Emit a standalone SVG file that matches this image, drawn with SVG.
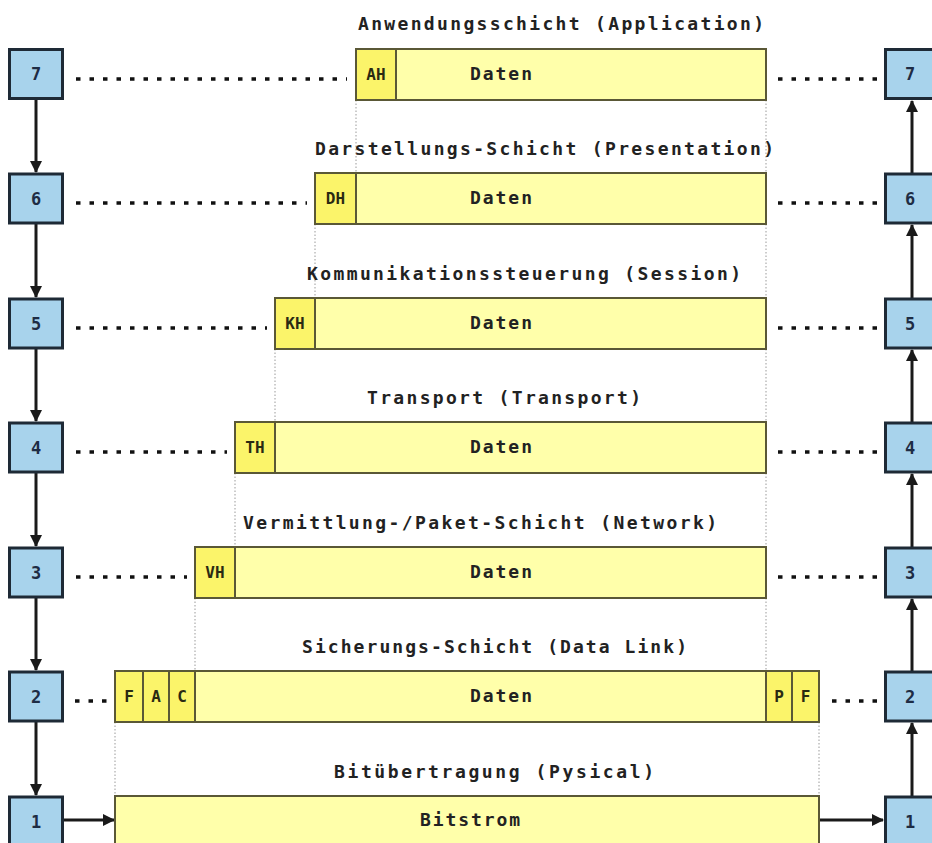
<svg xmlns="http://www.w3.org/2000/svg" width="932" height="843" viewBox="0 0 932 843">
<defs>
<style>
.box{fill:#a8d3ec;stroke:#1e2a36;stroke-width:3}
.num{font-family:"DejaVu Sans Mono","Liberation Mono",monospace;font-weight:bold;font-size:17px;fill:#1e2c44;text-anchor:middle}
.data{fill:#ffffaa;stroke:#5a5836;stroke-width:2}
.hdr{fill:#fbf46a;stroke:#5a5836;stroke-width:2}
.t{font-family:"DejaVu Sans Mono","Liberation Mono",monospace;font-weight:bold;font-size:18px;fill:#222}
.h{font-family:"DejaVu Sans Mono","Liberation Mono",monospace;font-weight:bold;font-size:16px;fill:#2a2a12;text-anchor:middle}
.dots{stroke:#111;stroke-width:3.5;stroke-dasharray:4.5 9;fill:none}
.guide{stroke:#9a9a9a;stroke-width:1;stroke-dasharray:1.5 2;fill:none}
.arr{stroke:#1a1a1a;stroke-width:3;fill:none}
</style>
<marker id="ah" markerUnits="userSpaceOnUse" markerWidth="14" markerHeight="14" refX="11" refY="6" orient="auto">
<path d="M0,0 L12,6 L0,12 Z" fill="#1a1a1a"/>
</marker>
</defs>
<rect width="932" height="843" fill="#ffffff"/>

<g id="guides">
<line class="guide" x1="356" y1="100" x2="356" y2="173"/>
<line class="guide" x1="766" y1="100" x2="766" y2="173"/>
<line class="guide" x1="315" y1="224" x2="315" y2="298"/>
<line class="guide" x1="766" y1="224" x2="766" y2="298"/>
<line class="guide" x1="275" y1="349" x2="275" y2="422"/>
<line class="guide" x1="766" y1="349" x2="766" y2="422"/>
<line class="guide" x1="235" y1="473" x2="235" y2="547"/>
<line class="guide" x1="766" y1="473" x2="766" y2="547"/>
<line class="guide" x1="195" y1="598" x2="195" y2="671"/>
<line class="guide" x1="766" y1="598" x2="766" y2="671"/>
<line class="guide" x1="115" y1="722" x2="115" y2="796"/>
<line class="guide" x1="819" y1="722" x2="819" y2="796"/>
</g>

<g id="connectors">
<line class="dots" x1="76" y1="79" x2="347" y2="79"/>
<line class="dots" x1="778" y1="79" x2="878" y2="79"/>
<line class="dots" x1="76" y1="203" x2="307" y2="203"/>
<line class="dots" x1="778" y1="203" x2="878" y2="203"/>
<line class="dots" x1="76" y1="328" x2="267" y2="328"/>
<line class="dots" x1="778" y1="328" x2="878" y2="328"/>
<line class="dots" x1="76" y1="452" x2="227" y2="452"/>
<line class="dots" x1="778" y1="452" x2="878" y2="452"/>
<line class="dots" x1="76" y1="577" x2="187" y2="577"/>
<line class="dots" x1="778" y1="577" x2="878" y2="577"/>
<line class="dots" x1="75" y1="701" x2="108" y2="701"/>
<line class="dots" x1="832" y1="701" x2="878" y2="701"/>

<line class="arr" x1="36" y1="100" x2="36" y2="172" marker-end="url(#ah)"/>
<line class="arr" x1="36" y1="224" x2="36" y2="297" marker-end="url(#ah)"/>
<line class="arr" x1="36" y1="349" x2="36" y2="421" marker-end="url(#ah)"/>
<line class="arr" x1="36" y1="473" x2="36" y2="546" marker-end="url(#ah)"/>
<line class="arr" x1="36" y1="598" x2="36" y2="670" marker-end="url(#ah)"/>
<line class="arr" x1="36" y1="722" x2="36" y2="795" marker-end="url(#ah)"/>
<line class="arr" x1="64" y1="820" x2="114" y2="820" marker-end="url(#ah)"/>
<line class="arr" x1="820" y1="820" x2="883" y2="820" marker-end="url(#ah)"/>
<line class="arr" x1="912" y1="796" x2="912" y2="723" marker-end="url(#ah)"/>
<line class="arr" x1="912" y1="671" x2="912" y2="599" marker-end="url(#ah)"/>
<line class="arr" x1="912" y1="547" x2="912" y2="474" marker-end="url(#ah)"/>
<line class="arr" x1="912" y1="422" x2="912" y2="350" marker-end="url(#ah)"/>
<line class="arr" x1="912" y1="298" x2="912" y2="225" marker-end="url(#ah)"/>
<line class="arr" x1="912" y1="173" x2="912" y2="101" marker-end="url(#ah)"/>
</g>

<g id="left7"><rect class="box" x="9.5" y="49.5" width="53" height="49"/><text class="num" x="36" y="80">7</text></g>
<g id="left6"><rect class="box" x="9.5" y="174" width="53" height="49"/><text class="num" x="36" y="205">6</text></g>
<g id="left5"><rect class="box" x="9.5" y="299" width="53" height="49"/><text class="num" x="36" y="330">5</text></g>
<g id="left4"><rect class="box" x="9.5" y="423" width="53" height="49"/><text class="num" x="36" y="454">4</text></g>
<g id="left3"><rect class="box" x="9.5" y="548" width="53" height="49"/><text class="num" x="36" y="579">3</text></g>
<g id="left2"><rect class="box" x="9.5" y="672" width="53" height="49"/><text class="num" x="36" y="703">2</text></g>
<g id="left1"><rect class="box" x="9.5" y="797" width="53" height="52"/><text class="num" x="36" y="828">1</text></g>

<g id="right7"><rect class="box" x="885.5" y="49.5" width="53" height="49"/><text class="num" x="910" y="80">7</text></g>
<g id="right6"><rect class="box" x="885.5" y="174" width="53" height="49"/><text class="num" x="910" y="205">6</text></g>
<g id="right5"><rect class="box" x="885.5" y="299" width="53" height="49"/><text class="num" x="910" y="330">5</text></g>
<g id="right4"><rect class="box" x="885.5" y="423" width="53" height="49"/><text class="num" x="910" y="454">4</text></g>
<g id="right3"><rect class="box" x="885.5" y="548" width="53" height="49"/><text class="num" x="910" y="579">3</text></g>
<g id="right2"><rect class="box" x="885.5" y="672" width="53" height="49"/><text class="num" x="910" y="703">2</text></g>
<g id="right1"><rect class="box" x="885.5" y="797" width="53" height="52"/><text class="num" x="910" y="828">1</text></g>

<g id="layer7">
<text class="t" x="358" y="30" textLength="406">Anwendungsschicht (Application)</text>
<rect class="data" x="356" y="49" width="410" height="51"/>
<rect class="hdr" x="356" y="49" width="40" height="51"/>
<text class="h" x="376" y="80">AH</text>
<text class="t" x="470" y="80" textLength="62">Daten</text>
</g>
<g id="layer6">
<text class="t" x="315" y="155" textLength="459">Darstellungs-Schicht (Presentation)</text>
<rect class="data" x="315" y="173" width="451" height="51"/>
<rect class="hdr" x="315" y="173" width="41" height="51"/>
<text class="h" x="335.5" y="204">DH</text>
<text class="t" x="470" y="204" textLength="62">Daten</text>
</g>
<g id="layer5">
<text class="t" x="307" y="280" textLength="434">Kommunikationssteuerung (Session)</text>
<rect class="data" x="275" y="298" width="491" height="51"/>
<rect class="hdr" x="275" y="298" width="40" height="51"/>
<text class="h" x="295" y="329">KH</text>
<text class="t" x="470" y="329" textLength="62">Daten</text>
</g>
<g id="layer4">
<text class="t" x="367" y="404" textLength="274">Transport (Transport)</text>
<rect class="data" x="235" y="422" width="531" height="51"/>
<rect class="hdr" x="235" y="422" width="40" height="51"/>
<text class="h" x="255" y="453">TH</text>
<text class="t" x="470" y="453" textLength="62">Daten</text>
</g>
<g id="layer3">
<text class="t" x="243" y="529" textLength="474">Vermittlung-/Paket-Schicht (Network)</text>
<rect class="data" x="195" y="547" width="571" height="51"/>
<rect class="hdr" x="195" y="547" width="40" height="51"/>
<text class="h" x="215" y="578">VH</text>
<text class="t" x="470" y="578" textLength="62">Daten</text>
</g>
<g id="layer2">
<text class="t" x="302" y="653" textLength="385">Sicherungs-Schicht (Data Link)</text>
<rect class="data" x="115" y="671" width="704" height="51"/>
<rect class="hdr" x="115" y="671" width="28" height="51"/>
<rect class="hdr" x="143" y="671" width="26" height="51"/>
<rect class="hdr" x="169" y="671" width="26" height="51"/>
<rect class="hdr" x="766" y="671" width="26" height="51"/>
<rect class="hdr" x="792" y="671" width="27" height="51"/>
<text class="h" x="129" y="702">F</text>
<text class="h" x="156" y="702">A</text>
<text class="h" x="182" y="702">C</text>
<text class="h" x="779" y="702">P</text>
<text class="h" x="805.5" y="702">F</text>
<text class="t" x="470" y="702" textLength="62">Daten</text>
</g>
<g id="layer1">
<text class="t" x="334" y="778" textLength="320">Bitübertragung (Pysical)</text>
<rect class="data" x="115" y="796" width="704" height="55"/>
<text class="t" x="420" y="826" textLength="100">Bitstrom</text>
</g>
</svg>
